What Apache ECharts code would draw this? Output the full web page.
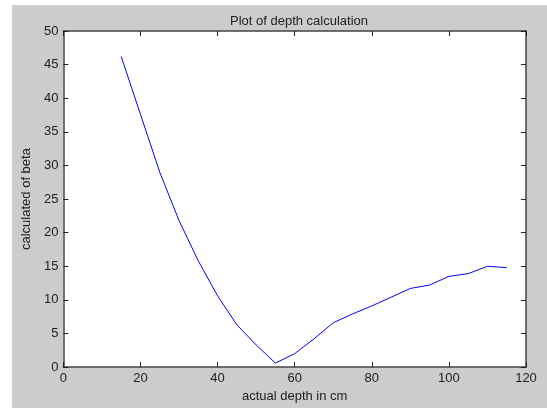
<!DOCTYPE html>
<html>
<head>
<meta charset="utf-8">
<script src="https://cdn.jsdelivr.net/npm/echarts@6/dist/echarts.min.js"></script>
<style>
    html, body { margin: 0; padding: 0; background: #fff; }
    #wrap { position: relative; width: 547px; height: 408px; background: #fff; }
    #main { position: absolute; left: 12px; top: 5px; width: 535px; height: 403px; }
</style>
</head>
<body>
<div id="wrap"><div id="main"></div></div>
<script>
    // depth readings (cm) and the calculated beta values
    var depth = [15, 20, 25, 30, 35, 40, 45, 50, 55, 60, 65, 70, 75, 80, 85, 90, 95, 100, 105, 110, 115];
    var beta = [46.2, 37.6, 29.0, 21.8, 15.8, 10.6, 6.3, 3.3, 0.6, 2.0, 4.2, 6.6, 7.9, 9.1, 10.4, 11.7, 12.2, 13.5, 13.9, 15.0, 14.8];
    var xTicks = [0, 20, 40, 60, 80, 100, 120];
    var yTicks = [0, 5, 10, 15, 20, 25, 30, 35, 40, 45, 50];

    var font = 'Liberation Sans, Arial, sans-serif';
    var axisColor = '#444';

    var points = depth.map(function(d, i) {
        return [d, beta[i]];
    });

    function tickAxis(show) {
        return {
            axisLine: { show: true, onZero: false, lineStyle: { color: axisColor, width: 1.5 } },
            axisTick: { show: true, inside: true, length: 5, lineStyle: { color: '#222', width: 1 } },
            axisLabel: { show: show, color: '#222', fontFamily: font, fontSize: 13, margin: 5 },
            splitLine: { show: false }
        };
    }

    var chart = echarts.init(document.getElementById('main'));

    var xBottom = Object.assign(tickAxis(true), {
        type: 'value', position: 'bottom',
        min: xTicks[0], max: xTicks[xTicks.length - 1], interval: 20,
        name: 'actual depth in cm', nameLocation: 'middle', nameGap: 21,
        nameTextStyle: { color: '#222', fontFamily: font, fontSize: 13 }
    });
    var xTop = Object.assign(tickAxis(false), {
        type: 'value', position: 'top',
        min: xTicks[0], max: xTicks[xTicks.length - 1], interval: 20
    });
    var yLeft = Object.assign(tickAxis(true), {
        type: 'value', position: 'left',
        min: yTicks[0], max: yTicks[yTicks.length - 1], interval: 5,
        name: 'calculated of beta', nameLocation: 'middle', nameGap: 30,
        nameTextStyle: { color: '#222', fontFamily: font, fontSize: 13 }
    });
    var yRight = Object.assign(tickAxis(false), {
        type: 'value', position: 'right',
        min: yTicks[0], max: yTicks[yTicks.length - 1], interval: 5
    });

    chart.setOption({
        backgroundColor: '#cccccc',
        animation: false,
        title: {
            text: 'Plot of depth calculation',
            left: 282, top: 5, textAlign: 'center',
            textStyle: { color: '#222', fontFamily: font, fontSize: 13, fontWeight: 'normal' }
        },
        grid: {
            left: 51, right: 21, top: 26, bottom: 39,
            show: true, backgroundColor: '#ffffff', borderWidth: 0
        },
        xAxis: [xBottom, xTop],
        yAxis: [yLeft, yRight],
        series: [{
            type: 'line',
            data: points,
            showSymbol: false,
            lineStyle: { color: '#0000ff', width: 1 },
            itemStyle: { color: '#0000ff' }
        }]
    });
</script>
</body>
</html>
